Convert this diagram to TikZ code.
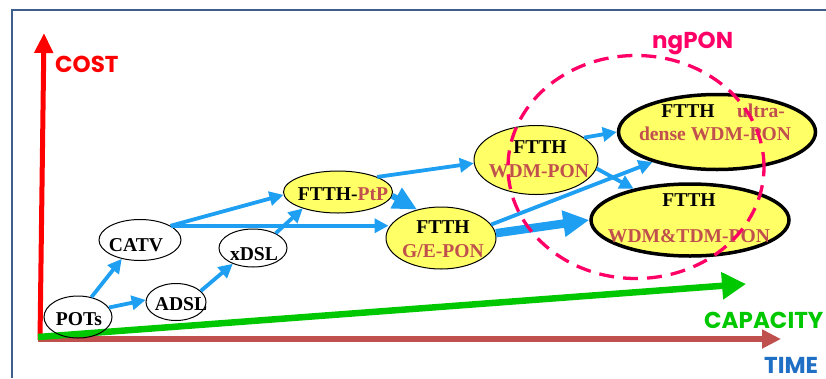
\documentclass[tikz,border=0pt]{standalone}
\usepackage{fontspec}
\setmainfont{Liberation Serif}
\newfontfamily\gothic{Poppins}
\usetikzlibrary{arrows.meta,shapes.geometric}

\definecolor{framec}{HTML}{3E5F8A}
\definecolor{costred}{HTML}{FF0000}
\definecolor{timeax}{HTML}{C0504D}
\definecolor{capgreen}{HTML}{00C800}
\definecolor{timeblue}{HTML}{1F6FC5}
\definecolor{ngpink}{HTML}{FF0066}
\definecolor{flow}{HTML}{1E9FF2}
\definecolor{nodefill}{HTML}{FFFF66}
\definecolor{techtxt}{HTML}{C0504D}

\begin{document}
\begin{tikzpicture}[x=1pt,y=-1pt,
  plainnode/.style={ellipse,draw=black,line width=1pt,inner sep=0pt},
  fttnode/.style={ellipse,draw=black,line width=1pt,fill=nodefill,inner sep=0pt},
  ngnode/.style={ellipse,draw=black,line width=3.5pt,fill=nodefill,inner sep=0pt},
  lbl/.style={font=\fontsize{19.6}{22}\selectfont\bfseries,anchor=base,inner sep=0pt},
  tech/.style={text=techtxt},
  flowarrow/.style={draw=flow,line width=3.8pt,-{Triangle[length=14pt,width=14pt]}},
  midflow/.style={draw=flow,line width=6pt,-{Triangle[length=24pt,width=22pt]}},
  bigflow/.style={draw=flow,line width=8.5pt,-{Triangle[length=26pt,width=25pt]}},
  axislabel/.style={font=\gothic\bfseries\fontsize{23}{25}\selectfont,anchor=base west,inner sep=0pt}
]
\useasboundingbox (0,0) rectangle (826,378);

% frame
\coordinate (fr-bl) at (12,378);
\coordinate (fr-tl) at (12,10);
\coordinate (fr-tr) at (826,10);
\draw[framec,line width=2pt] (fr-bl) -- (fr-tl) -- (fr-tr);

% axes
\coordinate (time-start) at (38,339);
\coordinate (time-end) at (781,339);
\coordinate (cost-start) at (40,340);
\coordinate (cost-end) at (44,33);
\coordinate (cap-start) at (38,337);
\coordinate (cap-end) at (746,284);
\draw[timeax,line width=6pt,-{Triangle[length=19pt,width=18pt]}] (time-start) -- (time-end);
\draw[costred,line width=5pt,-{Triangle[length=20pt,width=18pt]}] (cost-start) -- (cost-end);
\draw[capgreen,line width=6.5pt,-{Triangle[length=24pt,width=26pt]}] (cap-start) -- (cap-end);

\node[axislabel,text=costred] (cost) at (55,72) {COST};
\node[axislabel,text=capgreen] (capacity) at (704,328) {CAPACITY};
\node[axislabel,text=timeblue] (time) at (764,373) {TIME};
\node[axislabel,text=ngpink] (ngpon) at (652,48) {ngPON};

% technology ellipses
\node[plainnode,minimum width=68pt,minimum height=42pt] (pots) at (78,317) {};
\node[plainnode,minimum width=82pt,minimum height=41pt] (catv) at (140,240) {};
\node[plainnode,minimum width=60pt,minimum height=37pt] (adsl) at (176,302) {};
\node[plainnode,minimum width=68pt,minimum height=38pt] (xdsl) at (253,248) {};
\node[fttnode,minimum width=109pt,minimum height=42pt] (ptp) at (338,192) {};
\node[fttnode,minimum width=110pt,minimum height=62pt] (gepon) at (441,238) {};
\node[fttnode,minimum width=124pt,minimum height=69pt] (wdm) at (536,160) {};
\node[ngnode,minimum width=197pt,minimum height=75pt] (udwdm) at (717,132) {};
\node[ngnode,minimum width=198pt,minimum height=72pt] (wtdm) at (690,220) {};

% labels
\node[lbl] (pots-t) at (79,325) {POTs};
\node[lbl] (catv-t) at (136,251) {CATV};
\node[lbl] (adsl-t) at (181,310) {ADSL};
\node[lbl] (xdsl-t) at (254,260) {xDSL};
\node[lbl] (ptp-t) at (343,200) {FTTH-{\color{techtxt}PtP}};
\node[lbl] (gepon-t1) at (443,233) {FTTH};
\node[lbl,tech] (gepon-t2) at (443,257) {G/E-PON};
\node[lbl] (wdm-t1) at (540,153) {FTTH};
\node[lbl,tech] (wdm-t2) at (539,177) {WDM-PON};
\node[lbl] (ud-t1) at (688,117) {FTTH};
\node[lbl,tech] (ud-t2) at (761,117) {ultra-};
\node[lbl,tech] (ud-t3) at (715,140) {dense WDM-PON};
\node[lbl] (wt-t1) at (689,206) {FTTH};
\node[lbl,tech] (wt-t2) at (689,242) {WDM\&TDM-PON};

% evolution paths
\draw[flowarrow] (pots.56) -- (catv.226);
\draw[flowarrow] (pots.17) -- (adsl.176);
\draw[flowarrow] (adsl.24) -- (xdsl.218);
\draw[flowarrow] (catv.25) -- (ptp.183);
\draw[flowarrow] (catv.25) -- (catv.25 -| gepon.169);
\draw[flowarrow] (xdsl.33) -- (ptp.205);
\draw[midflow] (ptp.356) -- (gepon.130);
\draw[flowarrow] (ptp.21) -- (wdm.183);
\draw[bigflow] (gepon.5) -- (wtdm.180);
\draw[flowarrow] (gepon.15) -- (udwdm.205);
\draw[flowarrow] (wdm.25) -- (udwdm.180);
\draw[flowarrow] (wdm.352) -- (wtdm.151);

% next-generation PON zone
\node[ellipse,draw=ngpink,line width=3.3pt,dash pattern=on 15pt off 9pt,
      minimum width=256pt,minimum height=223pt,inner sep=0pt] (ngzone) at (636,167) {};
\end{tikzpicture}
\end{document}
